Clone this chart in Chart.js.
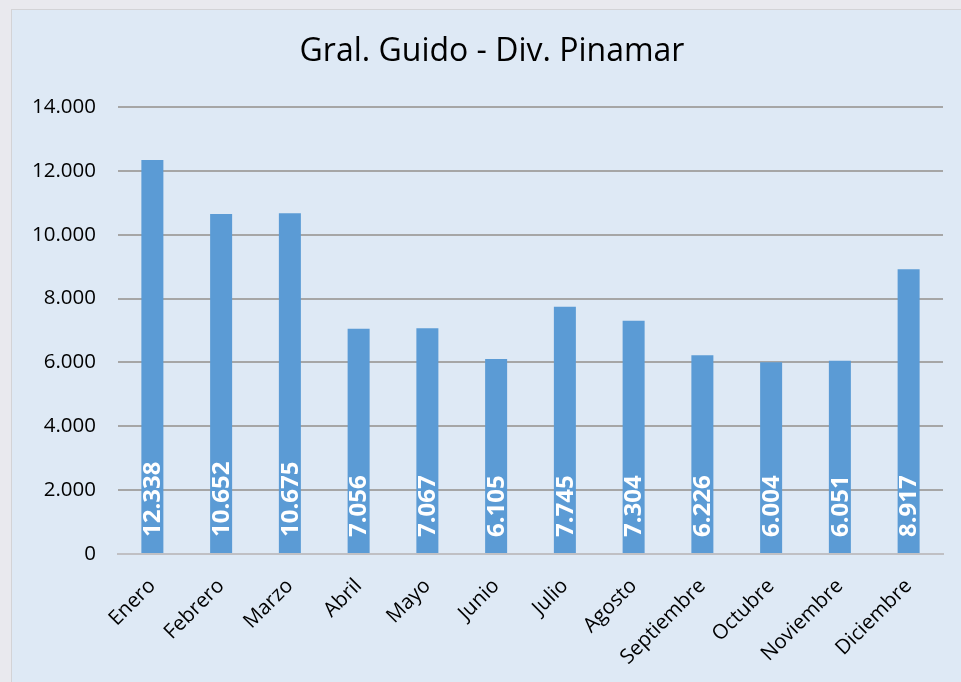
<!DOCTYPE html>
<html>
<head>
<meta charset="utf-8">
<script src="https://cdn.jsdelivr.net/npm/chart.js@4.4.1/dist/chart.umd.min.js"></script>
<style>
  html, body { margin: 0; padding: 0; background: #e9e9ee; overflow: hidden; }
  #panel {
    position: absolute; left: 11px; top: 9px;
    width: 960px; height: 680px;
    background: #dee9f5; border: 1px solid #d3d3d6;
  }
  #wrap { position: absolute; left: 0; top: 0; width: 949px; height: 672px; }
</style>
</head>
<body>
<div id="panel"><div id="wrap"><canvas id="chart"></canvas></div></div>
<script>
// --- data ---
const months = ["Enero", "Febrero", "Marzo", "Abril", "Mayo", "Junio",
  "Julio", "Agosto", "Septiembre", "Octubre", "Noviembre", "Diciembre"];
const values = [12338, 10652, 10675, 7056, 7067, 6105, 7745, 7304, 6226, 6004, 6051, 8917];
const yTicks = [0, 2000, 4000, 6000, 8000, 10000, 12000, 14000];
const chartTitle = "Gral. Guido - Div. Pinamar";

function fmt(n) {
  return String(n).replace(/\B(?=(\d{3})+(?!\d))/g, ".");
}

// title drawn centred over the panel (Excel-style), not over the plot
const titlePlugin = {
  id: "titlePlugin",
  afterDraw(chart) {
    const ctx = chart.ctx;
    ctx.save();
    ctx.fillStyle = "#000000";
    ctx.font = "32px 'Open Sans'";
    ctx.textAlign = "center";
    ctx.textBaseline = "middle";
    ctx.fillText(chartTitle, 480, 42);
    ctx.restore();
  }
};

// white rotated value labels inside the bars
const barLabels = {
  id: "barLabels",
  afterDatasetsDraw(chart) {
    const ctx = chart.ctx;
    const meta = chart.getDatasetMeta(0);
    const base = chart.scales.y.getPixelForValue(0);
    ctx.save();
    ctx.fillStyle = "#ffffff";
    ctx.font = "bold 24px 'Open Sans'";
    ctx.textAlign = "left";
    ctx.textBaseline = "middle";
    meta.data.forEach((bar, i) => {
      ctx.save();
      ctx.translate(bar.x + 1, base - 17);
      ctx.rotate(-Math.PI / 2);
      ctx.fillText(fmt(values[i]), 0, 0);
      ctx.restore();
    });
    ctx.restore();
  }
};

new Chart(document.getElementById("chart"), {
  type: "bar",
  data: {
    labels: months,
    datasets: [{
      data: values,
      backgroundColor: "#5b9bd5",
      barPercentage: 0.32,
      categoryPercentage: 1
    }]
  },
  options: {
    responsive: true,
    maintainAspectRatio: false,
    animation: false,
    layout: { padding: { left: 0, right: 18, top: 97, bottom: 0 } },
    plugins: {
      legend: { display: false },
      tooltip: { enabled: false },
      title: { display: false }
    },
    scales: {
      x: {
        grid: { display: false },
        border: { display: true, color: "#c0c0c4", width: 2 },
        ticks: {
          color: "#000000",
          font: { family: "'Open Sans'", size: 20.5 },
          minRotation: 45,
          maxRotation: 45,
          padding: 12
        },
        afterFit(scale) { scale.height = 128; }
      },
      y: {
        min: 0,
        max: 14000,
        afterBuildTicks(scale) { scale.ticks = yTicks.map(v => ({ value: v })); },
        border: { display: false },
        grid: {
          color: ctx => ctx.tick && ctx.tick.value === 0 ? "#c0c0c4" : "#a6a6a6",
          lineWidth: 2,
          drawTicks: false
        },
        ticks: {
          color: "#000000",
          font: { family: "'Open Sans'", size: 20.5 },
          padding: 22,
          callback: v => fmt(v)
        },
        afterFit(scale) { scale.width = 106; }
      }
    }
  },
  plugins: [barLabels, titlePlugin]
});
</script>
</body>
</html>
